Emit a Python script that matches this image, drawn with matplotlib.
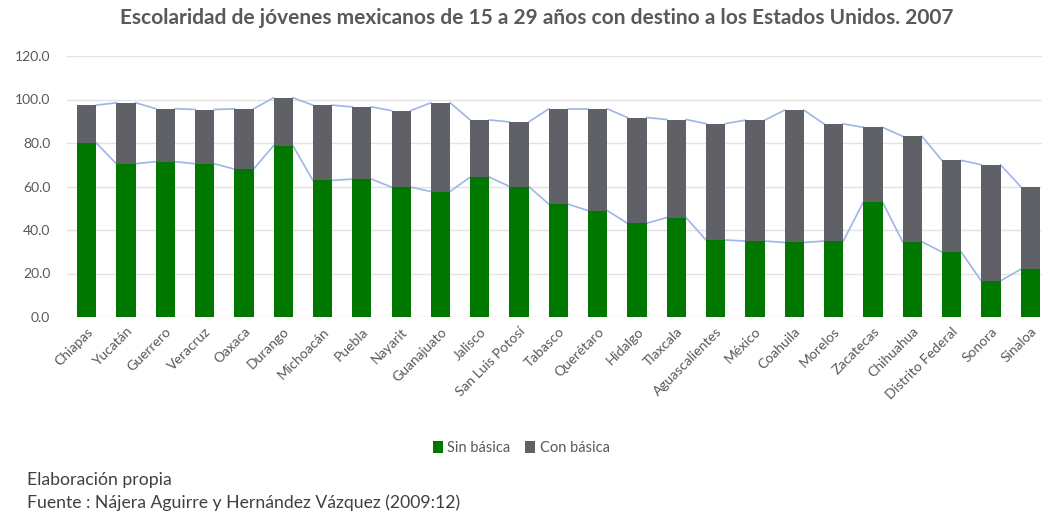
import numpy as np
import matplotlib.pyplot as plt

# Data
estados = ["Chiapas", "Yucatán", "Guerrero", "Veracruz", "Oaxaca", "Durango",
           "Michoacán", "Puebla", "Nayarit", "Guanajuato", "Jalisco",
           "San Luis Potosí", "Tabasco", "Querétaro", "Hidalgo", "Tlaxcala",
           "Aguascalientes", "México", "Coahuila", "Morelos", "Zacatecas",
           "Chihuahua", "Distrito Federal", "Sonora", "Sinaloa"]
sin_basica = [80.0, 70.5, 71.4, 70.5, 68.0, 78.8, 62.8, 63.4, 59.7, 57.7,
              64.3, 60.0, 51.9, 48.9, 43.1, 45.7, 35.4, 34.9, 34.3, 34.9,
              52.8, 34.6, 29.9, 16.6, 21.9]
total = [97.4, 98.5, 95.8, 95.4, 95.7, 100.8, 97.4, 96.6, 94.9, 98.5,
         90.6, 89.7, 95.7, 95.7, 91.7, 90.8, 88.9, 90.5, 95.1, 88.8,
         87.2, 83.1, 72.0, 70.0, 60.0]
con_basica = [t - s for t, s in zip(total, sin_basica)]

verde = "#007800"
gris = "#606166"
azul = "#9db6e6"
texto = "#595959"

plt.rcParams['font.family'] = ['Lato', 'DejaVu Sans']

fig = plt.figure(figsize=(10.42, 5.16), dpi=100)
ax = fig.add_axes([67 / 1042, 199 / 516, 975 / 1042, 261 / 516])

x = np.arange(len(estados))
w = 0.49
ax.bar(x, sin_basica, width=w, color=verde, label="Sin básica", zorder=3)
ax.bar(x, con_basica, width=w, bottom=sin_basica, color=gris,
       label="Con básica", zorder=3)

# series lines between neighbouring bars (Excel style)
for i in range(len(x) - 1):
    xs = [x[i] + w / 2, x[i + 1] - w / 2]
    ax.plot(xs, [sin_basica[i], sin_basica[i + 1]], color=azul, lw=1.2, zorder=2)
    ax.plot(xs, [total[i], total[i + 1]], color=azul, lw=1.2, zorder=2)

ax.set_xlim(-0.5, 24.3)
ax.set_ylim(0, 120)
ax.set_yticks(np.arange(0, 121, 20))
ax.set_yticklabels([f"{v:.1f}" for v in np.arange(0, 121, 20)])
ax.set_xticks(x)
ax.set_xticklabels(estados, rotation=45, ha="right", rotation_mode="anchor")
ax.tick_params(axis="both", length=0, labelsize=10, colors=texto)
ax.tick_params(axis="y", pad=12)
ax.tick_params(axis="x", pad=6)
ax.grid(axis="y", color="#e3e3e3", lw=1, zorder=0)
for s in ax.spines.values():
    s.set_visible(False)

fig.text(0.515, 0.965, "Escolaridad de jóvenes mexicanos de 15 a 29 años con destino a los Estados Unidos. 2007",
         ha="center", va="center", fontsize=15, fontweight="bold", color=texto)

leg = fig.legend(loc="center", bbox_to_anchor=(0.5, 1 - 448 / 516), ncol=2,
                 frameon=False, fontsize=10.5, handlelength=0.7, handleheight=0.9,
                 handletextpad=0.3, columnspacing=1.0)
for t in leg.get_texts():
    t.set_color(texto)

fig.text(27 / 1042, 1 - 480 / 516, "Elaboración propia", ha="left", va="center",
         fontsize=12.7, color="#404040")
fig.text(27 / 1042, 1 - 503 / 516, "Fuente : Nájera Aguirre y Hernández Vázquez (2009:12)",
         ha="left", va="center", fontsize=12.7, color="#404040")

fig.savefig("out.png", dpi=100)
